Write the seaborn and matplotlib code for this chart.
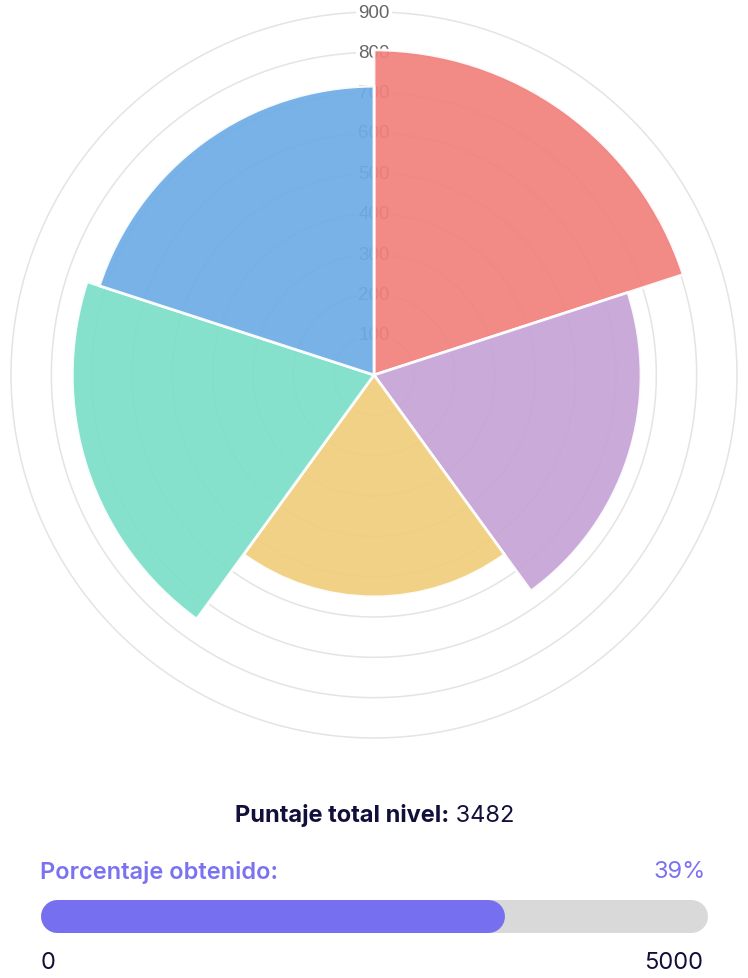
import numpy as np
import matplotlib
matplotlib.use("Agg")
import matplotlib.pyplot as plt
import seaborn as sns

sns.set_theme(style="white")
plt.rcParams['font.family'] = ['Inter', 'DejaVu Sans']

# datos del grafico polar
valores = [806, 662, 550, 748, 716]
colores = ['#F28A86', '#C9AAD8', '#F0D186', '#85E1CB', '#78B2E8']
ticks_r = [100, 200, 300, 400, 500, 600, 700, 800, 900]

puntaje_total = 3482
puntaje_max = 5000
porcentaje_txt = '39%'

W, H = 748, 979
fig = plt.figure(figsize=(W / 100, H / 100), dpi=100)

# --- polar area ---
cx, cy, R = 374, 376, 363
ax = fig.add_axes([(cx - R) / W, (H - cy - R) / H, 2 * R / W, 2 * R / H], projection='polar')
ax.set_theta_zero_location('N')
ax.set_theta_direction(-1)
ax.set_ylim(0, ticks_r[-1])
ax.grid(False)
ax.set_xticks([])
ax.set_yticks([])
ax.spines['polar'].set_visible(False)
ax.set_facecolor('none')

tt = np.linspace(0, 2 * np.pi, 400)
for r in ticks_r:
    ax.plot(tt, np.full_like(tt, r), color='#e4e4e4', lw=1.1, zorder=1, clip_on=False)
    ax.text(0, r, str(r), ha='center', va='center', fontsize=13.5, color='#666666',
            family=['Liberation Sans', 'DejaVu Sans'], zorder=2,
            bbox=dict(boxstyle='square,pad=0.12', fc='white', ec='none'))

n = len(valores)
ancho = 2 * np.pi / n
theta = np.arange(n) * ancho + ancho / 2
# colores opacos -> con alfa sobre blanco
alfa = 0.93
cols = []
for c in colores:
    rgb = np.array(matplotlib.colors.to_rgb(c))
    cols.append(tuple(np.clip((rgb - (1 - alfa)) / alfa, 0, 1)))
ax.bar(theta, valores, width=ancho, color=cols, alpha=alfa, edgecolor='white',
       linewidth=2, zorder=3)

# --- textos ---
fs = 17
fig.canvas.draw()
rend = fig.canvas.get_renderer()
y1 = 1 - 816 / H
t1 = fig.text(0, y1, 'Puntaje total nivel:', fontsize=fs, fontweight='bold',
              color='#12103A', va='center', ha='left')
t2 = fig.text(0, y1, ' ' + str(puntaje_total), fontsize=fs, color='#12103A',
              va='center', ha='left')
w1 = t1.get_window_extent(rend).width
w2 = t2.get_window_extent(rend).width
x0 = 375 - (w1 + w2) / 2
t1.set_x(x0 / W)
t2.set_x((x0 + w1) / W)

fig.text(40 / W, 1 - 872 / H, 'Porcentaje obtenido:', fontsize=fs, fontweight='semibold',
         color='#7A72F0', va='center', ha='left')
fig.text(706 / W, 1 - 872 / H, porcentaje_txt, fontsize=fs, color='#7A72F0',
         va='center', ha='right')

# --- barra de progreso ---
bx0, bx1, by, bh = 40, 707, 917, 33
axb = fig.add_axes([bx0 / W, (H - by - bh / 2) / H, (bx1 - bx0) / W, bh / H])
axb.set_xlim(0, puntaje_max)
axb.set_ylim(-1, 1)
axb.axis('off')
lw = bh * 72 / 100
rad = (bh / 2) * puntaje_max / (bx1 - bx0)
axb.plot([rad, puntaje_max - rad], [0, 0], color='#D9D9D9', lw=lw, solid_capstyle='round',
         clip_on=False)
axb.plot([rad, puntaje_total - rad], [0, 0], color='#7670F0', lw=lw, solid_capstyle='round',
         clip_on=False)

fig.text(41 / W, 1 - 963 / H, '0', fontsize=fs, color='#12103A', va='center', ha='left')
fig.text(703 / W, 1 - 963 / H, str(puntaje_max), fontsize=fs, color='#12103A',
         va='center', ha='right')

fig.savefig('out.png', dpi=100, facecolor='white')
